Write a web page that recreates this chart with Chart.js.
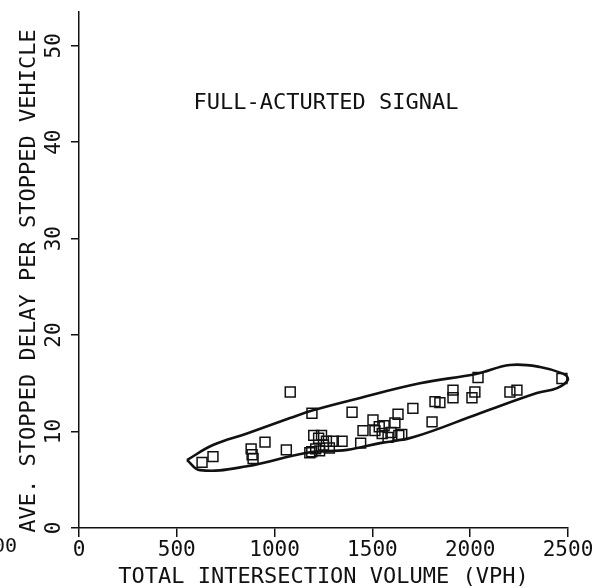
<!DOCTYPE html>
<html>
<head>
<meta charset="utf-8">
<script src="https://cdn.jsdelivr.net/npm/chart.js@4.4.0/dist/chart.umd.min.js"></script>
<style>
  html, body { margin: 0; background: #fff; }
  #wrap { width: 598px; height: 588px; }
</style>
</head>
<body>
<div id="wrap"><canvas id="chart"></canvas></div>
<script>
// observed intersections (volume vph, avg stopped delay sec)
const volume = [629, 685, 880, 885, 890, 951, 1060, 1080, 1180, 1190, 1191, 1200, 1210, 1225, 1230, 1240,
  1250, 1265, 1280, 1300, 1345, 1396, 1440, 1452, 1503, 1513, 1535, 1550, 1560, 1580, 1595, 1615,
  1631, 1635, 1650, 1707, 1805, 1820, 1845, 1912, 1912, 2009, 2024, 2040, 2203, 2239, 2469];
const delay = [6.8, 7.4, 8.2, 7.6, 7.2, 8.9, 8.1, 14.1, 7.8, 7.9, 11.9, 9.6, 8.2, 9.3, 8.0, 9.6,
  8.6, 9.0, 8.3, 9.0, 9.0, 12.0, 8.8, 10.1, 11.2, 10.1, 10.5, 9.8, 10.6, 9.4, 9.9, 10.9,
  11.8, 9.6, 9.7, 12.4, 11.0, 13.1, 13.0, 14.3, 13.5, 13.5, 14.1, 15.6, 14.1, 14.3, 15.5];

// hand drawn envelope around the points
const envelopeVolume = [552, 685, 859, 1079, 1196, 1401, 1743, 2035, 2203, 2357, 2474, 2500,
  2444, 2341, 2050, 1707, 1539, 1370, 1166, 859, 619, 552];
const envelopeDelay = [7.05, 8.6, 9.8, 11.4, 12.2, 13.3, 15.0, 16.0, 16.9, 16.7, 16.0, 15.4,
  14.5, 14.0, 11.9, 9.4, 8.8, 8.1, 7.8, 6.4, 6.0, 7.05];

const xTicks = [0, 500, 1000, 1500, 2000, 2500];
const yTicks = [0, 10, 20, 30, 40, 50];

const ink = '#111';
const mono = '"DejaVu Sans Mono", "Liberation Mono", monospace';

const points = volume.map((v, i) => ({ x: v, y: delay[i] }));
const envelope = envelopeVolume.map((v, i) => ({ x: v, y: envelopeDelay[i] }));

// y labels are rotated, and a few loose bits of text sit on the sheet
const extraText = {
  id: 'extraText',
  afterDraw(chart) {
    const ctx = chart.ctx;
    const y = chart.scales.y;
    ctx.save();
    ctx.fillStyle = ink;
    ctx.textAlign = 'center';
    ctx.textBaseline = 'middle';
    ctx.font = '21px ' + mono;
    yTicks.forEach(v => {
      ctx.save();
      ctx.translate(55, y.getPixelForValue(v));
      ctx.rotate(-Math.PI / 2);
      ctx.fillText(String(v), 0, 0);
      ctx.restore();
    });
    ctx.font = '22px ' + mono;
    ctx.save();
    ctx.translate(29, 281);
    ctx.rotate(-Math.PI / 2);
    ctx.fillText('AVE. STOPPED DELAY PER STOPPED VEHICLE', 0, 0);
    ctx.restore();
    ctx.fillText('FULL-ACTURTED SIGNAL', 326, 103);
    ctx.textAlign = 'right';
    ctx.font = '20px ' + mono;
    ctx.fillText('00', 17, 547);
    ctx.restore();
  }
};

new Chart(document.getElementById('chart'), {
  type: 'scatter',
  data: {
    datasets: [
      {
        data: points,
        pointStyle: 'rect',
        pointRadius: 7,
        pointBorderWidth: 1.5,
        borderColor: ink,
        backgroundColor: 'rgba(0,0,0,0)',
        clip: 8
      },
      {
        data: envelope,
        showLine: true,
        tension: 0.4,
        pointRadius: 0,
        borderColor: ink,
        borderWidth: 2.6,
        fill: false,
        clip: 8
      }
    ]
  },
  options: {
    responsive: true,
    maintainAspectRatio: false,
    animation: false,
    layout: { padding: { top: 12, right: 30, left: 0, bottom: 0 } },
    plugins: { legend: { display: false }, tooltip: { enabled: false } },
    scales: {
      x: {
        type: 'linear',
        min: 0,
        max: 2500,
        afterBuildTicks: s => { s.ticks = xTicks.map(v => ({ value: v })); },
        afterFit: s => { s.height = 60; },
        border: { color: ink, width: 1.5 },
        grid: { drawOnChartArea: false, drawTicks: true, tickLength: 9, color: ink, lineWidth: 1.5 },
        ticks: {
          color: ink,
          font: { family: mono, size: 21 },
          padding: 1,
          maxRotation: 0,
          callback: v => String(v)
        },
        title: {
          display: true,
          text: 'TOTAL INTERSECTION VOLUME (VPH)',
          color: ink,
          font: { family: mono, size: 22, lineHeight: 1 },
          padding: { top: 0, bottom: 0 }
        }
      },
      y: {
        type: 'linear',
        min: 0,
        max: 53.5,
        afterBuildTicks: s => { s.ticks = yTicks.map(v => ({ value: v })); },
        afterFit: s => { s.width = 79; },
        border: { color: ink, width: 1.5 },
        grid: { drawOnChartArea: false, drawTicks: true, tickLength: 8, color: ink, lineWidth: 1.5 },
        ticks: { display: false }
      }
    }
  },
  plugins: [extraText]
});
</script>
</body>
</html>
